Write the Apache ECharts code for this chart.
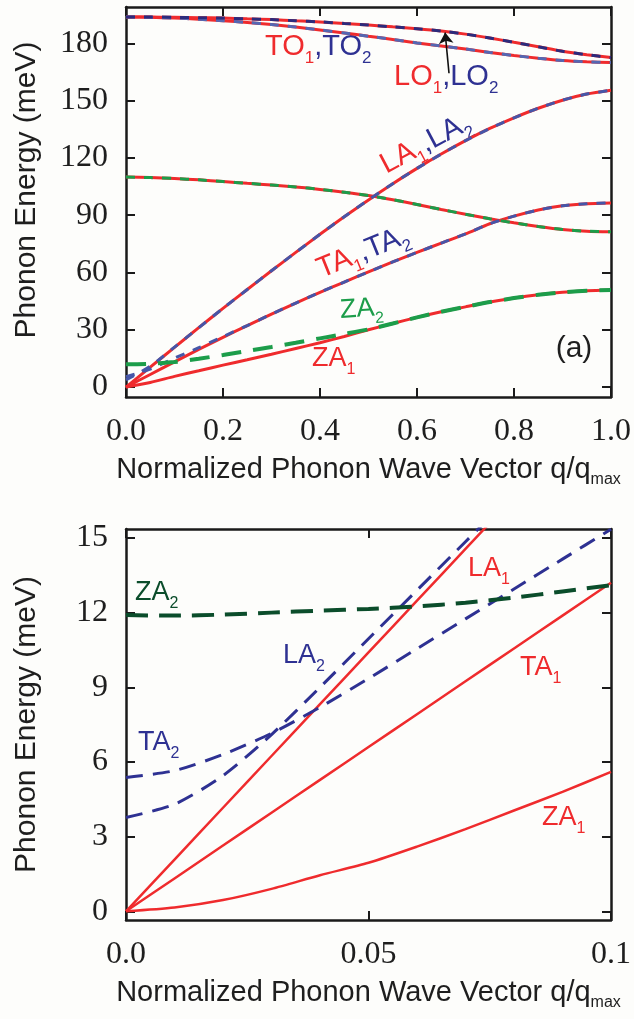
<!DOCTYPE html>
<html>
<head>
<meta charset="utf-8">
<script src="https://cdn.jsdelivr.net/npm/echarts@6/dist/echarts.min.js"></script>
<style>
html, body { margin: 0; padding: 0; background: #fdfdfb; }
#main { width: 634px; height: 1019px; }
</style>
</head>
<body>
<div id="main"></div>
<script>
// 上图 (a)：q/qmax 0 ~ 1
const qTop = [0, 0.05, 0.1, 0.15, 0.2, 0.25, 0.3, 0.35, 0.4, 0.45, 0.5, 0.55, 0.6, 0.65, 0.7, 0.75, 0.8, 0.85, 0.9, 0.95, 1.0];
const topLO = [193.8, 193.8, 193.6, 193.4, 193.2, 192.8, 192.4, 191.8, 191.2, 190.4, 189.6, 188.6, 187.6, 186.4, 184.8, 182.8, 180.5, 178.2, 175.8, 174.0, 172.5];
const topTO = [193.8, 193.6, 193.2, 192.6, 191.8, 190.9, 189.8, 188.5, 187.0, 185.4, 183.7, 182.0, 180.2, 178.6, 177.0, 175.2, 173.6, 172.2, 171.0, 170.3, 169.9];
const topLA1 = [0, 10.4, 20.8, 31.1, 41.2, 51.1, 60.9, 70.5, 80.0, 89.2, 98.0, 106.5, 114.5, 122.0, 129.0, 135.4, 141.0, 146.0, 150.2, 153.4, 155.4];
const topLA2 = [3.8, 10.9, 20.9, 31.1, 41.2, 51.1, 60.9, 70.5, 80.0, 89.2, 98.0, 106.5, 114.5, 122.0, 129.0, 135.4, 141.0, 146.0, 150.2, 153.4, 155.4];
const topTA1 = [0, 6.6, 13.2, 19.7, 26.0, 32.2, 38.2, 44.0, 49.6, 55.0, 60.3, 65.5, 70.5, 75.4, 80.2, 85.5, 89.5, 92.7, 94.9, 96.0, 96.4];
const topTA2 = [5.4, 9.4, 15.2, 20.6, 26.4, 32.2, 38.2, 44.0, 49.6, 55.0, 60.3, 65.5, 70.5, 75.4, 80.2, 85.5, 89.5, 92.7, 94.9, 96.0, 96.4];
const topZO = [110.0, 109.7, 109.2, 108.5, 107.6, 106.7, 105.8, 104.8, 103.5, 102.0, 100.3, 98.1, 95.6, 93.0, 90.5, 88.1, 86.0, 84.1, 82.5, 81.6, 81.3];
const topZA1 = [0, 2.4, 5.6, 8.5, 11.5, 14.3, 17.2, 20.2, 23.2, 26.5, 30.0, 33.3, 36.5, 39.4, 42.0, 44.5, 46.6, 48.3, 49.6, 50.4, 50.8];
const topZA2 = [11.9, 12.2, 13.1, 14.8, 16.8, 18.9, 21.0, 23.2, 25.5, 27.8, 30.2, 33.3, 36.5, 39.4, 42.0, 44.5, 46.6, 48.3, 49.6, 50.4, 50.8];

// 下图：q/qmax 0 ~ 0.1
const qBot = [0, 0.01, 0.02, 0.03, 0.04, 0.05, 0.06, 0.07, 0.08, 0.09, 0.1];
const botZA1 = [0, 0.15, 0.45, 0.9, 1.45, 1.95, 2.6, 3.3, 4.05, 4.8, 5.6];
const botTA1 = [0, 1.32, 2.64, 3.96, 5.28, 6.6, 7.92, 9.24, 10.56, 11.88, 13.2];
const botLA1 = [0, 2.08, 4.16, 6.24, 8.32, 10.4, 12.48, 14.56, 16.64, 18.72, 20.8];
const botLA2 = [3.77, 4.3, 5.45, 7.1, 9.0, 10.95, 12.9, 14.85, 16.8, 18.75, 20.7];
const botTA2 = [5.38, 5.65, 6.3, 7.15, 8.2, 9.35, 10.55, 11.75, 12.95, 14.15, 15.35];
const botZA2 = [11.9, 11.88, 11.92, 12.0, 12.08, 12.15, 12.25, 12.4, 12.6, 12.85, 13.1];

// 刻度
const topYTicks = [0, 30, 60, 90, 120, 150, 180];
const botYTicks = [0, 3, 6, 9, 12, 15];

const RED = '#ef2b2d';
const NAVY = '#2e3192';
const BLUE = '#4656a8';
const GREEN = '#1c9d4a';
const DKGREEN = '#0b4d2b';
const SERIF = '"Liberation Serif", "Times New Roman", serif';
const SANS = '"Liberation Sans", Arial, sans-serif';

function pairs(xs, ys) {
    return xs.map((q, i) => [q, ys[i]]);
}

function line(panel, xs, ys, color, width, dash, extra) {
    const s = {
        type: 'line',
        xAxisIndex: panel * 2,
        yAxisIndex: panel * 2,
        data: pairs(xs, ys),
        showSymbol: false,
        smooth: 0.25,
        silent: true,
        lineStyle: { color: color, width: width, type: dash || 'solid', cap: 'butt' }
    };
    return Object.assign(s, extra || {});
}

// 坐标轴
function frameAxes(grid, min, max, interval, fmt) {
    const line = { show: true, onZero: false, lineStyle: { color: '#1a1a1a', width: 2.5 } };
    const tick = { show: true, inside: true, length: 9, lineStyle: { color: '#1a1a1a', width: 2 } };
    return [
        {
            type: 'value', gridIndex: grid, position: 'bottom', min: min, max: max, interval: interval,
            axisLine: line, axisTick: tick, splitLine: { show: false },
            axisLabel: { fontFamily: SERIF, fontSize: 32, color: '#1e1e1e', margin: 19, formatter: fmt },
            name: '{a|Normalized Phonon Wave Vector q/q}{s|max}',
            nameLocation: 'middle', nameGap: 62,
            nameTextStyle: {
                rich: {
                    a: { fontFamily: SANS, fontSize: 29, color: '#1e1e1e', lineHeight: 29, verticalAlign: 'bottom', padding: [0, 0, 4, 0] },
                    s: { fontFamily: SANS, fontSize: 16, color: '#1e1e1e', lineHeight: 16, verticalAlign: 'bottom' }
                }
            }
        },
        {
            type: 'value', gridIndex: grid, position: 'top', min: min, max: max, interval: interval,
            axisLine: line, axisTick: tick, axisLabel: { show: false }, splitLine: { show: false }
        }
    ];
}

function frameYAxes(grid, min, max, ticks, namePad) {
    const line = { show: true, onZero: false, lineStyle: { color: '#1a1a1a', width: 2.5 } };
    const tick = { show: true, inside: true, length: 9, lineStyle: { color: '#1a1a1a', width: 2 }, customValues: ticks };
    return [
        {
            type: 'value', gridIndex: grid, position: 'left', min: min, max: max,
            axisLine: line, axisTick: tick, splitLine: { show: false },
            axisLabel: { fontFamily: SERIF, fontSize: 32, color: '#1e1e1e', margin: 18, customValues: ticks },
            name: 'Phonon Energy (meV)', nameLocation: 'middle', nameGap: 84,
            nameTextStyle: { fontFamily: SANS, fontSize: 30, color: '#1e1e1e', padding: namePad }
        },
        {
            type: 'value', gridIndex: grid, position: 'right', min: min, max: max,
            axisLine: line, axisTick: tick, axisLabel: { show: false }, splitLine: { show: false }
        }
    ];
}

// 带下标的标签
function label(text, x, y, size, colors, rot, align) {
    const sub = Math.round(size * 0.58);
    const rich = {};
    Object.keys(colors).forEach(k => {
        rich[k] = { fill: colors[k], fontFamily: SANS, fontSize: size, lineHeight: size, verticalAlign: 'bottom', padding: [0, 0, 5, 0] };
        rich[k + 's'] = { fill: colors[k], fontFamily: SANS, fontSize: sub, lineHeight: sub, verticalAlign: 'bottom' };
    });
    return {
        type: 'text', x: x, y: y, rotation: (rot || 0) * Math.PI / 180, silent: true,
        style: { text: text, rich: rich, align: align || 'left', verticalAlign: 'middle' }
    };
}

const fmtTop = v => v.toFixed(1);
const fmtBot = v => (v === 0 ? '0.0' : String(+v.toFixed(2)));

const option = {
    backgroundColor: '#fdfdfb',
    animation: false,
    grid: [
        { left: 126, right: 22, top: 7, height: 390 },
        { left: 126, right: 20, top: 529, height: 391 }
    ],
    xAxis: [].concat(
        frameAxes(0, 0, 1, 0.2, fmtTop),
        frameAxes(1, 0, 0.1, 0.05, fmtBot)
    ),
    yAxis: [].concat(
        frameYAxes(0, -5.2, 199, topYTicks, [0, 0, 0, 24]),
        frameYAxes(1, -0.35, 15.36, botYTicks, 0)
    ),
    series: [
        // 上图 红色实线
        line(0, qTop, topTO, RED, 3),
        line(0, qTop, topLO, RED, 3),
        line(0, qTop, topLA1, RED, 3),
        line(0, qTop, topTA1, RED, 3),
        line(0, qTop, topZO, RED, 3),
        line(0, qTop, topZA1, RED, 3),
        // 上图 虚线
        line(0, qTop, topTO, '#5567b2', 3, [9, 9]),
        line(0, qTop, topLO, '#2c2b7c', 3, [9, 9], {
            markLine: {
                silent: true,
                symbol: ['none', 'arrow'],
                symbolSize: 11,
                label: { show: false },
                lineStyle: { color: '#111', width: 1.6, type: 'solid' },
                data: [[{ coord: [0.666, 164.3] }, { coord: [0.658, 185.6] }]]
            }
        }),
        line(0, qTop, topLA2, BLUE, 3, [9, 9]),
        line(0, qTop, topTA2, BLUE, 3, [9, 9]),
        line(0, qTop, topZO, GREEN, 3, [9, 9]),
        line(0, qTop, topZA2, GREEN, 4, [20, 12]),
        // 下图
        line(1, qBot, botZA1, RED, 2.5),
        line(1, qBot, botTA1, RED, 2.5),
        line(1, qBot, botLA1, RED, 2.5),
        line(1, qBot, botLA2, NAVY, 3, [17, 10]),
        line(1, qBot, botTA2, NAVY, 3, [17, 10]),
        line(1, qBot, botZA2, DKGREEN, 4, [22, 11])
    ],
    graphic: [
        label('{r|TO}{rs|1}{b|,TO}{bs|2}', 265, 52, 29, { r: RED, b: NAVY }),
        label('{r|LO}{rs|1}{b|,LO}{bs|2}', 394, 82, 29, { r: RED, b: NAVY }),
        label('{r|LA}{rs|1}{b|,LA}{bs|2}', 428, 148, 29, { r: RED, b: NAVY }, 28, 'center'),
        label('{r|TA}{rs|1}{b|,TA}{bs|2}', 365, 257, 29, { r: RED, b: NAVY }, 22, 'center'),
        label('{g|ZA}{gs|2}', 362, 314, 27, { g: GREEN }, 4, 'center'),
        label('{r|ZA}{rs|1}', 312, 364, 27, { r: RED }),
        { type: 'text', x: 574, y: 349, silent: true,
          style: { text: '(a)', fill: '#1e1e1e', fontFamily: SANS, fontSize: 30, align: 'center', verticalAlign: 'middle' } },
        label('{g|ZA}{gs|2}', 135, 598, 27, { g: DKGREEN }),
        label('{b|LA}{bs|2}', 283, 661, 27, { b: NAVY }),
        label('{b|TA}{bs|2}', 138, 748, 27, { b: NAVY }),
        label('{r|LA}{rs|1}', 468, 574, 27, { r: RED }),
        label('{r|TA}{rs|1}', 520, 673, 27, { r: RED }),
        label('{r|ZA}{rs|1}', 542, 823, 27, { r: RED })
    ]
};

const chart = echarts.init(document.getElementById('main'));
chart.setOption(option);
</script>
</body>
</html>
